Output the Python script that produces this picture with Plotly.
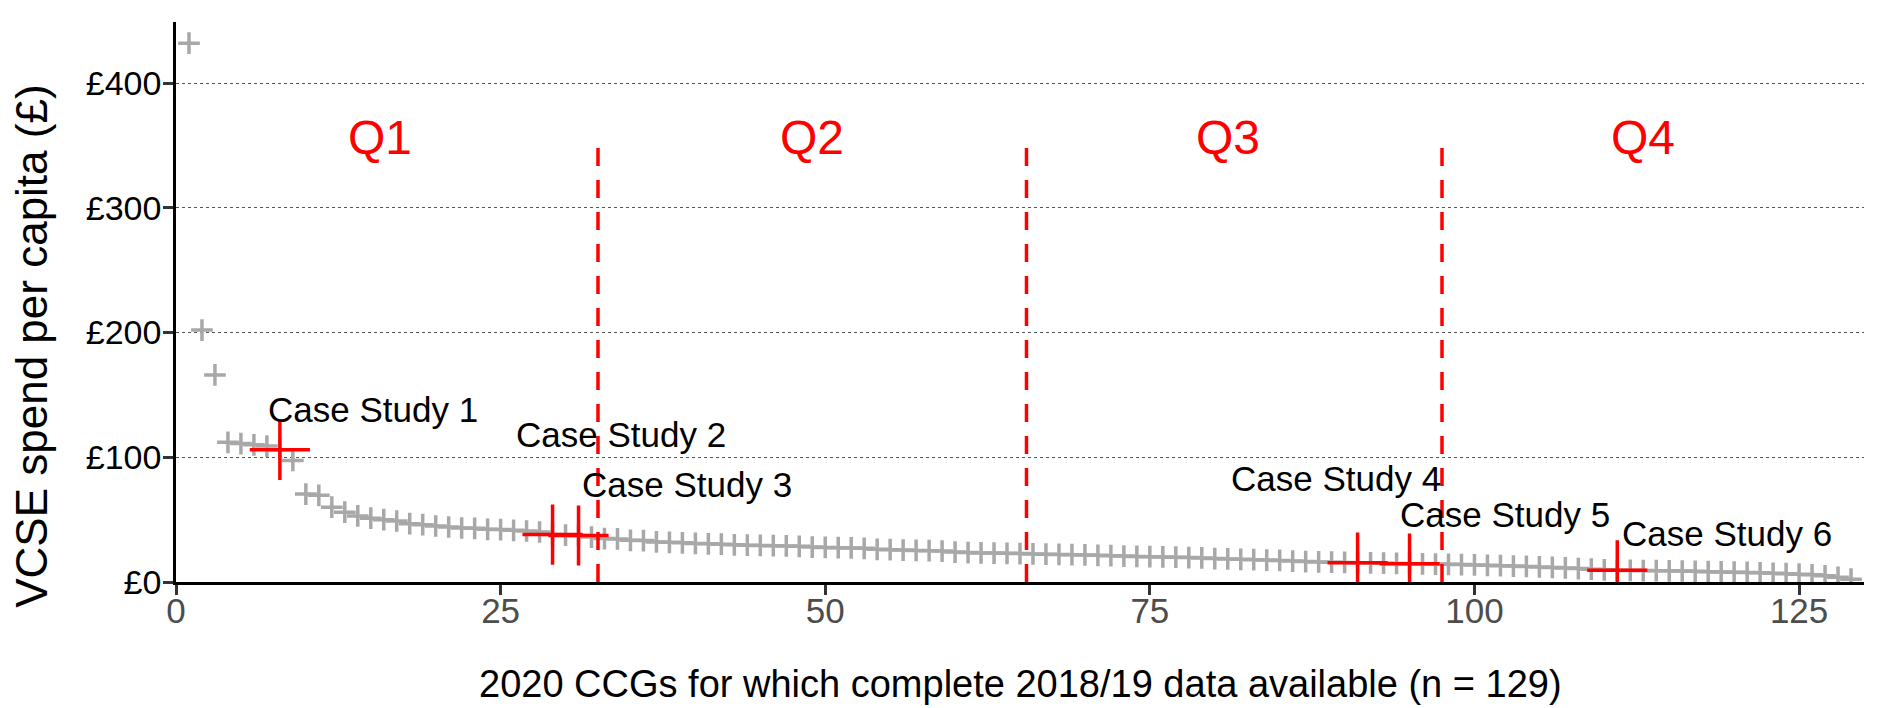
import plotly.graph_objects as go

# CCG index (ranked) and VCSE spend per capita (£)
ccg_rank = list(range(1, 130))
spend = [
    432, 202, 166, 112, 111, 110, 109, 106, 97.5, 70.5,
    69.5, 60, 56, 53, 51.2, 50, 48.9, 46.8, 46, 44.9,
    44.1, 43.3, 43, 42.2, 42, 41.4, 40.9, 40.1, 38.0, 37.6,
    37.3, 36, 34.8, 34.5, 33.4, 33.2, 32.1, 31.8, 31.4, 30.9,
    30.6, 30.3, 29.8, 29.5, 29.3, 29.1, 28.9, 28.6, 28.0, 27.7,
    27.5, 27.3, 27.0, 26.2, 25.9, 25.6, 25.3, 25.1, 24.8, 24.0,
    23.6, 23.3, 23.2, 23.0, 22.8, 22.5, 22.3, 22.1, 21.9, 21.7,
    21.4, 21.1, 20.8, 20.5, 20.3, 20.1, 19.9, 19.6, 19.3, 18.8,
    18.5, 18.2, 17.9, 17.6, 17.3, 16.8, 16.4, 16.1, 15.9, 15.7,
    15.5, 15.3, 15.1, 14.9, 14.7, 14.6, 14.4, 14.2, 14.0, 13.7,
    13.4, 13.1, 12.8, 12.5, 12.1, 11.7, 11.3, 10.8, 10.3, 9.8,
    9.4, 9.3, 9.2, 9.1, 9.0, 8.8, 8.6, 8.3, 8.1, 7.9,
    7.7, 7.4, 7.0, 6.7, 6.3, 5.8, 5.0, 3.8, 2.3,
]

# Case studies
case_labels = ["Case Study 1", "Case Study 2", "Case Study 3",
               "Case Study 4", "Case Study 5", "Case Study 6"]
case_rank = [8, 29, 31, 91, 95, 111]
case_spend = [106, 38.0, 37.3, 15.5, 14.7, 9.4]
label_x = [6.9, 26.0, 31.1, 81.1, 94.1, 111.2]
label_y = [138, 118, 78, 83, 54, 39]

# Quartile boundaries and labels
quartile_bounds = [32.5, 65.5, 97.5]
quartile_top = 350
quartile_names = ["Q1", "Q2", "Q3", "Q4"]
quartile_label_x = [15.7, 49, 81, 113]
quartile_label_y = 356

y_ticks = [0, 100, 200, 300, 400]
y_tick_text = ["£0", "£100", "£200", "£300", "£400"]
x_ticks = [0, 25, 50, 75, 100, 125]

x_title = "2020 CCGs for which complete 2018/19 data available (n = 129)"
y_title = "VCSE spend per capita (£)"

FONT = "Liberation Sans, Arial, sans-serif"

fig = go.Figure()

fig.add_trace(go.Scatter(
    x=ccg_rank, y=spend, mode="markers",
    marker=dict(symbol="cross-thin", size=15.5, color="#A8A8A8",
                line=dict(color="#A8A8A8", width=3.5)),
    hoverinfo="x+y", showlegend=False,
))

for b in quartile_bounds:
    fig.add_trace(go.Scatter(
        x=[b, b], y=[0, quartile_top], mode="lines",
        line=dict(color="#FF0000", width=3.5, dash="18px,14px"),
        hoverinfo="skip", showlegend=False,
    ))

fig.add_trace(go.Scatter(
    x=case_rank, y=case_spend, mode="markers",
    marker=dict(symbol="cross-thin", size=43, color="#FF0000",
                line=dict(color="#FF0000", width=3.5)),
    hoverinfo="x+y", showlegend=False,
))

for lab, lx, ly in zip(case_labels, label_x, label_y):
    fig.add_annotation(x=lx, y=ly, text=lab, showarrow=False,
                       xanchor="left", yanchor="middle",
                       font=dict(family=FONT, size=35, color="black"))

for name, qx in zip(quartile_names, quartile_label_x):
    fig.add_annotation(x=qx, y=quartile_label_y, text=name, showarrow=False,
                       xanchor="center", yanchor="middle",
                       font=dict(family=FONT, size=48, color="#FF0000"))

# axis titles
fig.add_annotation(xref="paper", yref="paper", x=0.5, y=-0.183,
                   text=x_title, showarrow=False,
                   xanchor="center", yanchor="middle",
                   font=dict(family=FONT, size=38, color="black"))
fig.add_annotation(xref="paper", yref="paper", x=-0.0853, y=0.420,
                   text=y_title, showarrow=False, textangle=-90,
                   xanchor="center", yanchor="middle",
                   font=dict(family=FONT, size=44, color="black"))

# page body has an 8px margin: figure is sized/offset to fill the 1889x708 window
fig.update_layout(
    width=1879, height=698,
    margin=dict(l=168, r=23, t=14, b=124),
    paper_bgcolor="white", plot_bgcolor="white",
    font=dict(family=FONT),
    showlegend=False,
)

fig.update_xaxes(
    range=[0, 130], tickvals=x_ticks, automargin=False,
    showline=True, linecolor="black", linewidth=2.5,
    ticks="outside", ticklen=10, tickwidth=2.5, tickcolor="#333333",
    tickfont=dict(family=FONT, size=35, color="#4D4D4D"),
    ticklabelstandoff=-14,
    showgrid=False, zeroline=False,
)

fig.update_yaxes(
    range=[0, 449], tickvals=y_ticks, ticktext=y_tick_text, automargin=False,
    showline=True, linecolor="black", linewidth=2.5,
    ticks="outside", ticklen=10, tickwidth=2.5, tickcolor="#333333",
    tickfont=dict(family=FONT, size=34, color="black"),
    ticklabelstandoff=-5,
    showgrid=True, gridcolor="#555555", gridwidth=1, griddash="dot",
    zeroline=False,
)

fig.write_html("out.html")
